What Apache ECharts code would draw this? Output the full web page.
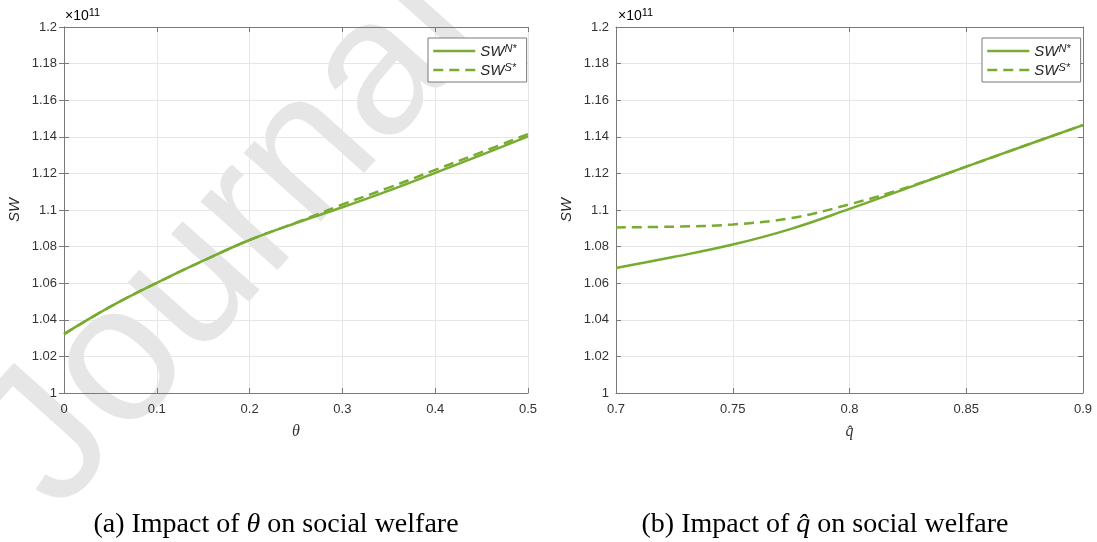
<!DOCTYPE html>
<html><head><meta charset="utf-8">
<script src="https://cdn.jsdelivr.net/npm/echarts@6/dist/echarts.min.js"></script>
<style>html,body{margin:0;padding:0;background:#fff}#c{width:1097px;height:542px}</style>
</head><body><div id="c"></div>
<script>
// ---- data (values in units of 1e11) ----
const thetaX    = [0, 0.05, 0.1, 0.15, 0.2, 0.25, 0.3, 0.35, 0.4, 0.45, 0.5];
const swN_theta = [1.0322, 1.0472, 1.0602, 1.0723, 1.0836, 1.0929, 1.1015, 1.1106, 1.1203, 1.1301, 1.1402];
const swS_theta = [1.0322, 1.0472, 1.0602, 1.0723, 1.0836, 1.0931, 1.1030, 1.1122, 1.1219, 1.1316, 1.1415];

const qX        = [0.7, 0.725, 0.75, 0.775, 0.8, 0.825, 0.85, 0.875, 0.9];
const swN_q     = [1.0683, 1.0744, 1.0811, 1.0897, 1.1006, 1.1121, 1.1237, 1.1351, 1.1464];
const swS_q     = [1.0905, 1.0909, 1.0921, 1.0956, 1.1031, 1.1125, 1.1237, 1.1351, 1.1464];

const yTicks = [1, 1.02, 1.04, 1.06, 1.08, 1.1, 1.12, 1.14, 1.16, 1.18, 1.2];
const thetaTicks = [0, 0.1, 0.2, 0.3, 0.4, 0.5];
const qTicks = [0.7, 0.75, 0.8, 0.85, 0.9];

const GREEN = '#77AC30';
const AX = '#7a7a7a';
const LBL = '#333333';
const FONT = 'Liberation Sans';

const chart = echarts.init(document.getElementById('c'), null, {renderer: 'canvas'});

const fmt = v => String(+v.toFixed(3));

function xAxes(gi, ticks, name) {
  const min = ticks[0], max = ticks[ticks.length - 1], interval = ticks[1] - ticks[0];
  return [
    { type: 'value', gridIndex: gi, min, max, interval, position: 'bottom',
      name, nameLocation: 'middle', nameGap: 31,
      nameTextStyle: { fontFamily: 'Liberation Serif', fontStyle: 'italic', fontSize: 16, color: '#333' },
      axisLine: { show: true, lineStyle: { color: AX, width: 1 } },
      axisTick: { show: true, inside: true, length: 5, lineStyle: { color: AX } },
      axisLabel: { color: LBL, fontSize: 13, fontFamily: FONT, margin: 10, formatter: fmt },
      splitLine: { show: true, lineStyle: { color: '#e6e6e6', width: 1 } } },
    { type: 'value', gridIndex: gi, min, max, interval, position: 'top',
      axisLine: { show: true, lineStyle: { color: AX, width: 1 } },
      axisTick: { show: true, inside: true, length: 5, lineStyle: { color: AX } },
      axisLabel: { show: false }, splitLine: { show: false } }
  ];
}
function yAxes(gi, gap) {
  const min = yTicks[0], max = yTicks[yTicks.length - 1], interval = 0.02;
  return [
    { type: 'value', gridIndex: gi, min, max, interval, position: 'left',
      name: 'SW', nameLocation: 'middle', nameGap: gap, nameRotate: 90,
      nameTextStyle: { fontFamily: FONT, fontStyle: 'italic', fontSize: 15, color: '#262626' },
      axisLine: { show: true, lineStyle: { color: AX, width: 1 } },
      axisTick: { show: true, inside: true, length: 5, lineStyle: { color: AX } },
      axisLabel: { color: LBL, fontSize: 13, fontFamily: FONT, margin: 7, formatter: fmt },
      splitLine: { show: true, lineStyle: { color: '#e6e6e6', width: 1 } } },
    { type: 'value', gridIndex: gi, min, max, interval, position: 'right',
      axisLine: { show: true, lineStyle: { color: AX, width: 1 } },
      axisTick: { show: true, inside: true, length: 5, lineStyle: { color: AX } },
      axisLabel: { show: false }, splitLine: { show: false } }
  ];
}

const pairs = (xs, ys) => xs.map((x, i) => [x, ys[i]]);

function line(name, xi, yi, data, dashed) {
  return { name, type: 'line', xAxisIndex: xi, yAxisIndex: yi, data,
    smooth: 0.4, symbol: 'none', showSymbol: false, silent: true,
    lineStyle: { color: GREEN, width: 2.5, type: dashed ? [10, 6] : 'solid' },
    itemStyle: { color: GREEN }, z: dashed ? 3 : 2 };
}

const legendRich = {
  s: { fontSize: 15, fontStyle: 'italic', fontFamily: FONT, color: '#262626', verticalAlign: 'bottom', lineHeight: 16 },
  p: { fontSize: 11, fontStyle: 'italic', fontFamily: FONT, color: '#262626', verticalAlign: 'top', lineHeight: 16 }
};
function legend(left, data) {
  return { left, top: 38, orient: 'vertical', data,
    itemWidth: 42, itemHeight: 14, itemGap: 3, padding: [5, 10, 4, 4],
    borderColor: AX, borderWidth: 1, borderRadius: 0, backgroundColor: '#fff',
    selectedMode: false,
    itemStyle: { color: 'rgba(0,0,0,0)', borderColor: 'rgba(0,0,0,0)', borderWidth: 0, opacity: 0 },
    lineStyle: { width: 2.5 },
    formatter: n => n.endsWith('N') ? '{s|SW}{p|N*}' : '{s|SW}{p|S*}',
    textStyle: { rich: legendRich } };
}

const expRich = {
  a: { fontSize: 14, fontFamily: FONT, color: LBL, verticalAlign: 'bottom', lineHeight: 16 },
  b: { fontSize: 11, fontFamily: FONT, color: LBL, verticalAlign: 'top', lineHeight: 16 }
};
const capRich = {
  n: { fontSize: 28, fontFamily: 'Liberation Serif', color: '#000' },
  i: { fontSize: 28, fontFamily: 'Liberation Serif', fontStyle: 'italic', color: '#000' }
};

const option = {
  animation: false,
  backgroundColor: '#fff',
  grid: [
    { left: 64, top: 27, width: 464, height: 366, show: false },
    { left: 616, top: 27, width: 467, height: 366, show: false }
  ],
  xAxis: [...xAxes(0, thetaTicks, 'θ'), ...xAxes(1, qTicks, 'q̂')],
  yAxis: [...yAxes(0, 42), ...yAxes(1, 42)],
  legend: [legend(428, ['aN', 'aS']), legend(982, ['bN', 'bS'])],
  series: [
    line('aN', 0, 0, pairs(thetaX, swN_theta), false),
    line('aS', 0, 0, pairs(thetaX, swS_theta), true),
    line('bN', 2, 2, pairs(qX, swN_q), false),
    line('bS', 2, 2, pairs(qX, swS_q), true)
  ],
  graphic: { elements: [
    { type: 'text', z: -1, x: 232, y: 240, rotation: 0.84, silent: true,
      style: { text: 'Journal', fontSize: 195, fontFamily: FONT, fill: '#e6e6e6', align: 'center', verticalAlign: 'middle' } },
    { type: 'text', left: 65, top: 7, style: { text: '{a|×10}{b|11}', rich: expRich } },
    { type: 'text', left: 618, top: 7, style: { text: '{a|×10}{b|11}', rich: expRich } },
    { type: 'text', x: 276, y: 525, style: { text: '{n|(a) Impact of }{i|θ}{n| on social welfare}', rich: capRich, align: 'center', verticalAlign: 'middle' } },
    { type: 'text', x: 825, y: 525, style: { text: '{n|(b) Impact of }{i|q̂}{n| on social welfare}', rich: capRich, align: 'center', verticalAlign: 'middle' } }
  ] }
};
chart.setOption(option);
</script>
</body></html>
